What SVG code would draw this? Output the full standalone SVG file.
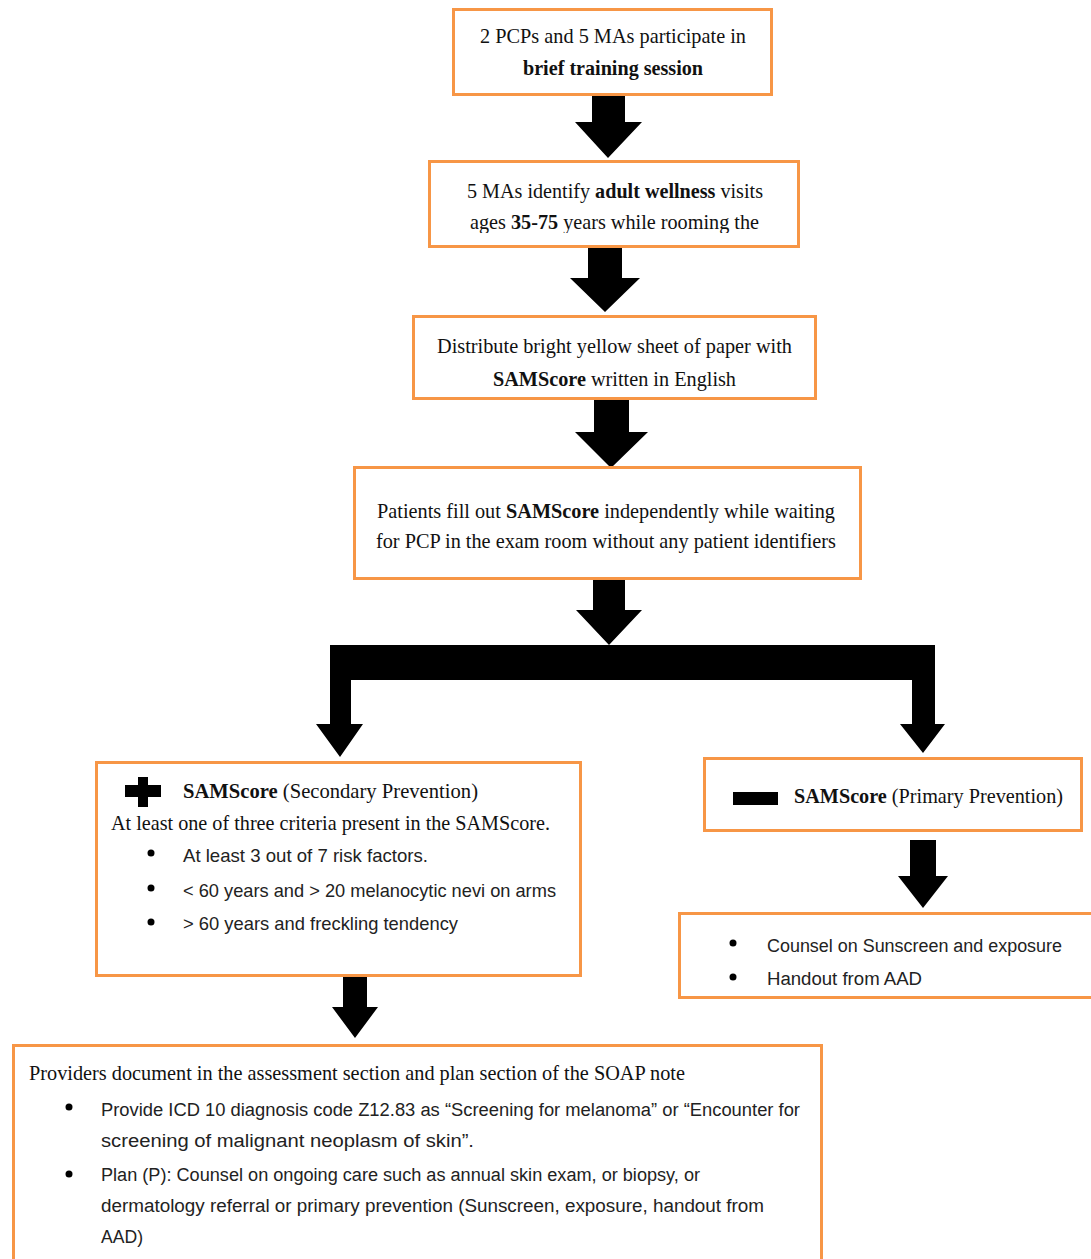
<svg xmlns="http://www.w3.org/2000/svg" width="1091" height="1259" viewBox="0 0 1091 1259">
<style>
.box{fill:#fff;stroke:#F79646;stroke-width:3}
.arr{fill:#000}
.s{font-family:"Liberation Serif","Times New Roman",serif;font-size:22px;fill:#111}
.b{font-weight:bold}
.n{font-family:"Liberation Sans",Arial,sans-serif;font-size:19px;fill:#222}
.n2{font-family:"Liberation Sans",Arial,sans-serif;font-size:18px;fill:#222}
</style>
<defs>
<clipPath id="clip2"><rect x="429" y="161" width="370" height="72"/></clipPath>
</defs>
<rect width="1091" height="1259" fill="#fff"/>

<g id="connectors">
<polygon class="arr" points="592,95 625,95 625,122 642,122 608,158 575,122 592,122"/>
<polygon class="arr" points="588,247 622,247 622,278 640,278 605,312 570,278 588,278"/>
<polygon class="arr" points="594,399 629,399 629,432 648,432 611,468 575,432 594,432"/>
<polygon class="arr" points="593,575 625,575 625,610 642,610 609,645 576,610 593,610"/>
<polygon class="arr" points="330,645 935,645 935,724 945,724 923,753 900,724 912,724 912,680 351,680 351,724 363,724 340,757 316,724 330,724"/>
<polygon class="arr" points="343,975 367,975 367,1007 378,1007 355,1038 332,1007 343,1007"/>
<polygon class="arr" points="910,840 936,840 936,876 948,876 923,908 898,876 910,876"/>
</g>

<g id="n1">
<rect class="box" x="453.5" y="9.5" width="318" height="85"/>
<text class="s" x="480" y="43" textLength="266" lengthAdjust="spacingAndGlyphs">2 PCPs and 5 MAs participate in</text>
<text class="s b" x="523" y="75" textLength="180" lengthAdjust="spacingAndGlyphs">brief training session</text>
</g>

<g id="n2">
<rect class="box" x="429.5" y="161.5" width="369" height="85"/>
<text class="s" x="467" y="198" textLength="296" lengthAdjust="spacingAndGlyphs">5 MAs identify <tspan class="b">adult wellness</tspan> visits</text>
<g clip-path="url(#clip2)">
<text class="s" x="470" y="229" textLength="289" lengthAdjust="spacingAndGlyphs">ages <tspan class="b">35-75</tspan> years while rooming the</text>
</g>
</g>

<g id="n3">
<rect class="box" x="413.5" y="316.5" width="402" height="82"/>
<text class="s" x="437" y="353" textLength="355" lengthAdjust="spacingAndGlyphs">Distribute bright yellow sheet of paper with</text>
<text class="s" x="493" y="386" textLength="243" lengthAdjust="spacingAndGlyphs"><tspan class="b">SAMScore</tspan> written in English</text>
</g>

<g id="n4">
<rect class="box" x="354.5" y="467.5" width="506" height="111"/>
<text class="s" x="377" y="518" textLength="458" lengthAdjust="spacingAndGlyphs">Patients fill out <tspan class="b">SAMScore</tspan> independently while waiting</text>
<text class="s" x="376" y="548" textLength="460" lengthAdjust="spacingAndGlyphs">for PCP in the exam room without any patient identifiers</text>
</g>

<g id="n5">
<rect class="box" x="96.5" y="762.5" width="484" height="213"/>
<rect class="arr" x="125" y="785" width="36" height="12"/>
<rect class="arr" x="138" y="777" width="10" height="30"/>
<text class="s" x="183" y="798" textLength="295" lengthAdjust="spacingAndGlyphs"><tspan class="b">SAMScore</tspan>  (Secondary Prevention)</text>
<text class="s" x="111" y="830" textLength="439" lengthAdjust="spacingAndGlyphs">At least one of three criteria present in the SAMScore.</text>
<circle class="arr" cx="151" cy="853" r="3.5"/>
<circle class="arr" cx="151" cy="888" r="3.5"/>
<circle class="arr" cx="151" cy="922" r="3.5"/>
<text class="n" x="183" y="862" textLength="245" lengthAdjust="spacingAndGlyphs">At least 3 out of 7 risk factors.</text>
<text class="n" x="183" y="897" textLength="373" lengthAdjust="spacingAndGlyphs">&lt; 60 years and &gt; 20 melanocytic nevi on arms</text>
<text class="n" x="183" y="930" textLength="275" lengthAdjust="spacingAndGlyphs">&gt; 60 years and freckling tendency</text>
</g>

<g id="n6">
<rect class="box" x="704.5" y="758.5" width="377" height="72"/>
<rect class="arr" x="733" y="792" width="45" height="13"/>
<text class="s" x="794" y="803" textLength="269" lengthAdjust="spacingAndGlyphs"><tspan class="b">SAMScore</tspan> (Primary Prevention)</text>
</g>

<g id="n8">
<rect class="box" x="679.5" y="913.5" width="415" height="84"/>
<circle class="arr" cx="733" cy="943" r="3.5"/>
<circle class="arr" cx="733" cy="977" r="3.5"/>
<text class="n2" x="767" y="952" textLength="295" lengthAdjust="spacingAndGlyphs">Counsel on Sunscreen and exposure</text>
<text class="n2" x="767" y="985" textLength="155" lengthAdjust="spacingAndGlyphs">Handout from AAD</text>
</g>

<g id="n7">
<rect class="box" x="13.5" y="1045.5" width="808" height="220"/>
<text class="s" x="29" y="1080" textLength="656" lengthAdjust="spacingAndGlyphs">Providers document in the assessment section and plan section of the SOAP note</text>
<circle class="arr" cx="69" cy="1107" r="3.5"/>
<circle class="arr" cx="69" cy="1174" r="3.5"/>
<text class="n2" x="101" y="1116" textLength="699" lengthAdjust="spacingAndGlyphs">Provide ICD 10 diagnosis code Z12.83 as “Screening for melanoma” or “Encounter for</text>
<text class="n2" x="101" y="1147" textLength="373" lengthAdjust="spacingAndGlyphs">screening of malignant neoplasm of skin”.</text>
<text class="n2" x="101" y="1181" textLength="599" lengthAdjust="spacingAndGlyphs">Plan (P): Counsel on ongoing care such as annual skin exam, or biopsy, or</text>
<text class="n2" x="101" y="1212" textLength="663" lengthAdjust="spacingAndGlyphs">dermatology referral or primary prevention (Sunscreen, exposure, handout from</text>
<text class="n2" x="101" y="1243" textLength="42" lengthAdjust="spacingAndGlyphs">AAD)</text>
</g>
</svg>
